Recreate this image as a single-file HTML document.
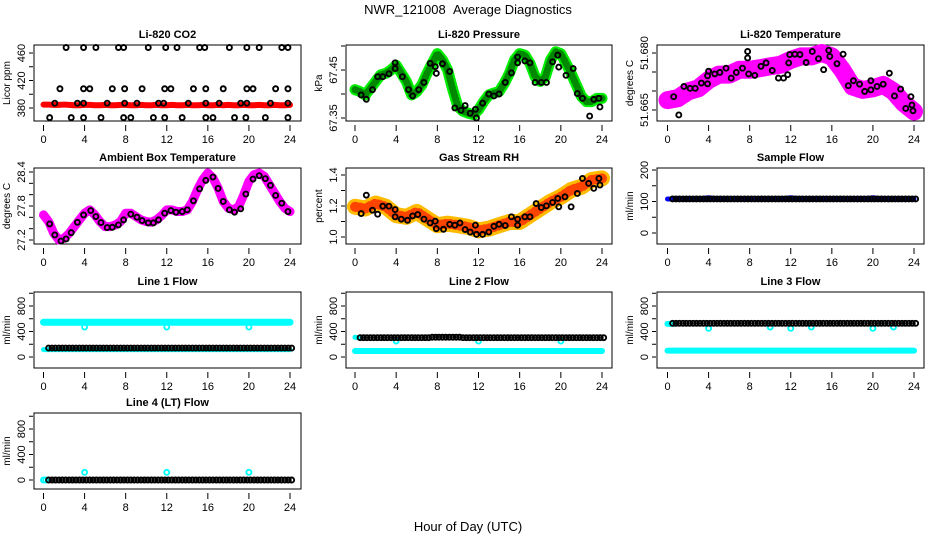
<!DOCTYPE html>
<html><head><meta charset="utf-8"><title>NWR_121008 Average Diagnostics</title>
<style>
html,body{margin:0;padding:0;background:#fff;}
svg{display:block;font-family:"Liberation Sans",sans-serif;}
</style></head>
<body>
<svg id="chart" width="936" height="540" viewBox="0 0 936 540" xmlns="http://www.w3.org/2000/svg">
<rect x="0" y="0" width="936" height="540" fill="#fff"/>
<text x="468" y="14" font-size="13" text-anchor="middle">NWR_121008&#160;&#160;Average Diagnostics</text>
<text x="468" y="531" font-size="13" text-anchor="middle">Hour of Day (UTC)</text>
</svg>
<script>
// ---------- data ----------
const hourTicks = [0,4,8,12,16,20,24];
const halfHours = [0,0.5,1,1.5,2,2.5,3,3.5,4,4.5,5,5.5,6,6.5,7,7.5,8,8.5,9,9.5,10,10.5,11,11.5,12,12.5,13,13.5,14,14.5,15,15.5,16,16.5,17,17.5,18,18.5,19,19.5,20,20.5,21,21.5,22,22.5,23,23.5,24];
const hours = [0,1,2,3,4,5,6,7,8,9,10,11,12,13,14,15,16,17,18,19,20,21,22,23,24];

// CO2
const co2RedValues = [385,385,384.5,384.5,385,384.5,384,384,384.5,384.5,384,384,384.5,384,384,384.5,384.5,384,384,384.5,384,384,384.5,384,384,384.5,384,384,384.5,384,384,384.5,384,384,384.5,384,384.5,384,384,384.5,384,384,384.5,384,384,384.5,384,384,384.5];
const co2BlackTimes = [2.2,3.9,5.1,7.3,7.8,10.2,11.9,13,15.2,15.7,18.1,19.8,21,23.2,23.8, 1.6,3.9,4.5,6.7,7.9,9.6,11.8,12.4,14.6,15.8,17.5,19.8,20.4,22.6,23.8, 1.1,3.3,3.9,6.2,7.9,9.1,11.2,11.7,14.1,15.8,17.1,19.2,19.8,22.1,23.8, 0.6,2.7,3.9,5.6,7.8,8.5,10.7,11.8,13.5,15.8,16.5,18.6,19.7,21.6,23.8];
const co2BlackValues = [468,468,468,468,468,468,468,468,468,468,468,468,468,468,468, 408,408,408,408,408,408,408,408,408,408,408,408,408,408,408, 387,387,387,387,387,387,387,387,387,387,387,387,387,387,387, 366,366,366,366,366,366,366,366,366,366,366,366,366,366,366];

// Pressure
const pressGreenValues = [67.409,67.405,67.398,67.412,67.426,67.440,67.443,67.450,67.460,67.443,67.426,67.398,67.405,67.419,67.443,67.464,67.484,67.471,67.450,67.409,67.374,67.364,67.360,67.357,67.367,67.384,67.398,67.402,67.405,67.422,67.443,67.471,67.484,67.481,67.464,67.436,67.426,67.436,67.471,67.488,67.484,67.464,67.443,67.419,67.395,67.384,67.384,67.391,67.391];
const pressBlackTimes = [0.6,1.1,1.7,2.2,2.7,3.3,3.9,3.9,4.6,5.2,5.6,6.2,6.7,7.3,7.8,7.9,8.5,9.2,9.7,10.3,10.7,11.2,11.7,11.8,12.4,13,13.5,14,14.6,15.2,15.8,15.8,16.5,17,17.5,18.1,18.6,19.2,19.7,19.8,20.5,21.2,21.6,22.1,22.8,23.2,23.7,23.8];
const pressBlackValues = [67.398,67.389,67.409,67.436,67.436,67.442,67.465,67.453,67.436,67.409,67.396,67.409,67.424,67.464,67.457,67.443,67.463,67.447,67.371,67.366,67.376,67.360,67.368,67.350,67.381,67.400,67.396,67.400,67.424,67.444,67.477,67.465,67.469,67.465,67.424,67.424,67.424,67.467,67.481,67.456,67.439,67.453,67.401,67.391,67.354,67.389,67.391,67.373];

// Li-820 temperature
const tempMagentaValues = [51.6676,51.6681,51.6699,51.6707,51.6729,51.6743,51.6743,51.6756,51.6756,51.6760,51.6765,51.6769,51.6782,51.6791,51.6791,51.6800,51.6791,51.6756,51.6712,51.6703,51.6707,51.6716,51.6699,51.6668,51.6646];
const tempBlackTimes = [0.6,1.1,1.6,2.2,2.7,3.3,3.9,3.9,4.0,4.6,5.1,5.7,6.2,6.7,7.3,7.8,7.8,7.9,8.5,9.1,9.6,10.2,10.8,11.3,11.7,11.8,11.9,12.4,12.9,13.5,14.1,14.7,15.2,15.7,15.8,16.5,17.1,17.6,18.1,18.7,19.2,19.8,19.8,20.4,21.0,21.6,22.1,22.7,23.2,23.7,23.8,23.9];
const tempBlackValues = [51.6685,51.6637,51.6712,51.6707,51.6707,51.6721,51.6719,51.6740,51.6752,51.6745,51.6749,51.6760,51.6734,51.6749,51.6760,51.6804,51.6787,51.6745,51.6741,51.6765,51.6774,51.6754,51.6734,51.6734,51.6743,51.6774,51.6796,51.6797,51.6796,51.6775,51.6804,51.6785,51.6756,51.6807,51.6791,51.6772,51.6797,51.6714,51.6727,51.6718,51.6699,51.6727,51.6703,51.6712,51.6718,51.6747,51.6687,51.6705,51.6654,51.6685,51.6663,51.6648];

// Ambient box temperature
const ambMagentaValues = [27.643,27.525,27.318,27.200,27.230,27.318,27.436,27.555,27.673,27.732,27.643,27.525,27.436,27.436,27.466,27.525,27.673,27.673,27.614,27.555,27.525,27.513,27.555,27.631,27.732,27.732,27.702,27.702,27.732,27.880,28.087,28.264,28.382,28.294,28.116,27.880,27.761,27.732,27.791,27.998,28.234,28.353,28.382,28.323,28.175,28.027,27.880,27.761,27.702];
const ambBlackTimes = [0.6,1.1,1.7,2.2,2.7,3.3,3.9,4.6,5.1,5.6,6.2,6.7,7.3,7.8,8.5,9.1,9.6,10.2,10.7,11.2,11.8,12.4,12.9,13.5,14,14.6,15.2,15.8,16.5,17,17.5,18.1,18.6,19.2,19.7,20.4,21,21.6,22.1,22.6,23.2,23.8];
const ambBlackValues = [27.484,27.289,27.182,27.218,27.330,27.513,27.643,27.720,27.614,27.507,27.419,27.425,27.466,27.555,27.655,27.602,27.543,27.502,27.502,27.555,27.673,27.720,27.691,27.702,27.732,27.892,28.104,28.252,28.311,28.110,27.880,27.732,27.691,27.750,28.010,28.276,28.335,28.282,28.164,27.986,27.850,27.702];

// Gas stream RH
const rhOrangeValues = [1.195,1.184,1.216,1.195,1.141,1.130,1.162,1.119,1.076,1.086,1.076,1.065,1.043,1.054,1.076,1.097,1.097,1.141,1.184,1.227,1.259,1.303,1.324,1.368,1.378];
const rhBlackTimes = [0.6,1.1,1.7,2.2,2.7,3.3,3.9,3.9,4.5,5.1,5.6,6.1,6.7,7.3,7.8,7.9,8.6,9.2,9.7,10.2,10.7,11.2,11.7,11.8,12.4,13,13.5,14,14.6,15.2,15.8,15.8,16.5,17,17.6,18.1,18.6,19.2,19.7,19.8,20.4,21,21.6,22.1,22.7,23.2,23.7,23.8];
const rhBlackValues = [1.151,1.270,1.173,1.147,1.199,1.199,1.177,1.130,1.115,1.108,1.136,1.145,1.115,1.091,1.102,1.054,1.050,1.082,1.076,1.091,1.048,1.032,1.076,1.017,1.017,1.032,1.069,1.082,1.074,1.130,1.115,1.076,1.130,1.130,1.216,1.190,1.201,1.223,1.249,1.195,1.259,1.195,1.281,1.378,1.346,1.314,1.378,1.335];

// Flows (hourly values)
const sampleBlueValues = [108,108,108,108,112,108,108,108,108,108,108,108,112,108,108,108,108,108,108,108,112,108,108,108,108];
const sampleBlackValues = [108,108,108,108,108,108,108,108,108,108,108,108,108,108,108,108,108,108,108,108,108,108,108,108];
const line1CyanHigh = [545,545,545,545,545,545,545,545,545,545,545,545,545,545,545,545,545,545,545,545,545,545,545,545,545];
const line1CyanLow = [115,115,115,115,115,115,115,115,115,115,115,115,115,115,115,115,115,115,115,115,115,115,115,115,115];
const line1Black = [140,140,140,140,140,140,140,140,140,140,140,140,140,140,140,140,140,140,140,140,140,140,140,140];
const line1DipTimes = [4,12,20];
const line1DipValues = [470,470,470];
const line2CyanHigh = [310,305,300];
const line2CyanHighTimes = [0,0.3,0.6];
const line2CyanLow = [95,95,95,95,95,95,95,95,95,95,95,95,95,95,95,95,95,95,95,95,95,95,95,95,95];
const line2Black = [303,303,303,303,303,303,303,310,310,310,303,303,303,303,303,303,303,303,303,303,303,303,303,303];
const line2DipTimes = [4,12,20];
const line2DipValues = [250,250,250];
const line3CyanHigh = [520,520,520];
const line3CyanHighTimes = [0,0.3,0.6];
const line3CyanLow = [100,100,100,100,100,100,100,100,100,100,100,100,100,100,100,100,100,100,100,100,100,100,100,100,100];
const line3Black = [528,528,528,528,528,528,528,528,528,528,528,528,528,528,528,528,528,528,528,528,528,528,528,528];
const line3DipTimes = [4,10,12,14,20,22];
const line3DipValues = [450,470,450,470,450,470];
const line4Black = [0,0,0,0,0,0,0,0,0,0,0,0,0,0,0,0,0,0,0,0,0,0,0,0];
const line4CyanTimes = [0,0.2,4,12,20];
const line4CyanValues = [0,0,120,120,120];

// ---------- layout ----------
const NS = 'http://www.w3.org/2000/svg';
const svg = document.getElementById('chart');
const cols = [{l:34,r:301,x0:43.5,x24:290},{l:346,r:612,x0:355,x24:602},{l:657,r:924,x0:667.5,x24:914}];
const rows = [{t:45,b:121},{t:168,b:244},{t:292,b:368},{t:413,b:489}];

function mk(tag, parent) { const e = document.createElementNS(NS, tag); parent.appendChild(e); return e; }

function panel(ci, ri, title, ylab, v1, p1, v2, p2, ticks, labels, key) {
  const c = cols[ci], r = rows[ri];
  const g = mk('g', svg);
  
  
  const xs = h => c.x0 + (c.x24 - c.x0) * h / 24;
  const ys = v => p1 + (p2 - p1) * (v - v1) / (v2 - v1);
  const box = mk('rect', g);
  box.setAttribute('x', c.l); box.setAttribute('y', r.t);
  box.setAttribute('width', c.r - c.l); box.setAttribute('height', r.b - r.t);
  box.setAttribute('fill', 'none'); box.setAttribute('stroke', '#000'); box.setAttribute('stroke-width', '1');
  
  
  const t = mk('text', g);
  t.setAttribute('x', (c.l + c.r) / 2); t.setAttribute('y', r.t - 7);
  t.setAttribute('font-size', '11'); t.setAttribute('font-weight', 'bold'); t.setAttribute('text-anchor', 'middle');
  t.textContent = title;
  
  
  const yl = mk('text', g);
  const ylx = c.l - 24, yly = (r.t + r.b) / 2;
  yl.setAttribute('x', ylx); yl.setAttribute('y', yly);
  yl.setAttribute('transform', 'rotate(-90 ' + ylx + ' ' + yly + ')');
  yl.setAttribute('font-size', '10'); yl.setAttribute('text-anchor', 'middle');
  yl.textContent = ylab;
  
  
  hourTicks.forEach(h => {
    const x = xs(h);
    const tk = mk('line', g);
    tk.setAttribute('x1', x); tk.setAttribute('x2', x); tk.setAttribute('y1', r.b + 4); tk.setAttribute('y2', r.b + 10);
    tk.setAttribute('stroke', '#000');
    
    
    const tl = mk('text', g);
    tl.setAttribute('x', x); tl.setAttribute('y', r.b + 22);
    tl.setAttribute('font-size', '11'); tl.setAttribute('text-anchor', 'middle');
    tl.textContent = h;
    
    
  });
  ticks.forEach(v => {
    const y = ys(v);
    const tk = mk('line', g);
    tk.setAttribute('x1', c.l - 5); tk.setAttribute('x2', c.l - 1); tk.setAttribute('y1', y); tk.setAttribute('y2', y);
    tk.setAttribute('stroke', '#000');
    
    
  });
  labels.forEach(v => {
    const y = ys(v), x = c.l - 9;
    const tl = mk('text', g);
    tl.setAttribute('x', x); tl.setAttribute('y', y);
    tl.setAttribute('transform', 'rotate(-90 ' + x + ' ' + y + ')');
    tl.setAttribute('font-size', '11'); tl.setAttribute('text-anchor', 'middle');
    tl.textContent = String(v);
    
    
  });
  return {g, xs, ys};
}

function band(p, times, vals, color, width, name, dash) {
  const pl = mk('polyline', p.g);
  pl.setAttribute('points', times.map((h, i) => p.xs(h) + ',' + p.ys(vals[i])).join(' '));
  pl.setAttribute('fill', 'none'); pl.setAttribute('stroke', color); pl.setAttribute('stroke-width', width);
  pl.setAttribute('stroke-linejoin', 'round'); pl.setAttribute('stroke-linecap', 'round');
  if (dash) pl.setAttribute('stroke-dasharray', dash);
  
  
}
function pts(p, times, vals, color, name, r) {
  times.forEach((h, i) => {
    const c = mk('circle', p.g);
    c.setAttribute('cx', p.xs(h)); c.setAttribute('cy', p.ys(vals[i])); c.setAttribute('r', r || 2.5);
    c.setAttribute('fill', 'none'); c.setAttribute('stroke', color); c.setAttribute('stroke-width', '1.9');
    
    
  });
}
// three points per hour from hourly values
function hourlyPts(p, vals, color, name, offset) {
  vals.forEach((v, i) => {
    [0, 0.33, 0.66].forEach(d => {
      const c = mk('circle', p.g);
      c.setAttribute('cx', p.xs(i + offset + d)); c.setAttribute('cy', p.ys(v)); c.setAttribute('r', 2.5);
      c.setAttribute('fill', 'none'); c.setAttribute('stroke', color); c.setAttribute('stroke-width', '1.9');
      
      
    });
  });
}

// CO2
let p = panel(0, 0, 'Li-820 CO2', 'Licor ppm', 380, 108, 460, 53, [380,400,420,440,460], [380,420,460], 'co2');
band(p, halfHours, co2RedValues, '#ff0000', 6, 'co2-red-series');
pts(p, co2BlackTimes, co2BlackValues, '#000', 'co2-point');

// Pressure
p = panel(1, 0, 'Li-820 Pressure', 'kPa', 67.35, 118, 67.45, 70, [67.35,67.40,67.45,67.50], ['67.35','67.45'], 'pressure');
band(p, halfHours, pressGreenValues, '#00ee00', 11, 'pressure-green-series');
band(p, halfHours, pressGreenValues, '#008800', 7, 'pressure-green-speckle', '1 3');
pts(p, pressBlackTimes, pressBlackValues, '#000', 'pressure-point');

// Li-820 temperature
p = panel(2, 0, 'Li-820 Temperature', 'degrees C', 51.665, 110, 51.680, 53, [51.665,51.670,51.675,51.680], ['51.665','51.680'], 'li820-temp');
band(p, hours, tempMagentaValues, '#ff00ff', 18, 'li820-temp-magenta-series');
pts(p, tempBlackTimes, tempBlackValues, '#000', 'li820-temp-point');

// Ambient
p = panel(0, 1, 'Ambient Box Temperature', 'degrees C', 27.2, 240, 28.4, 172, [27.2,27.4,27.6,27.8,28.0,28.2,28.4], ['27.2','27.8','28.4'], 'ambient');
band(p, halfHours, ambMagentaValues, '#ff00ff', 9, 'ambient-magenta-series');
pts(p, ambBlackTimes, ambBlackValues, '#000', 'ambient-point');

// RH
p = panel(1, 1, 'Gas Stream RH', 'percent', 1.0, 237, 1.4, 175, [1.0,1.1,1.2,1.3,1.4], ['1.0','1.2','1.4'], 'rh');
band(p, hours, rhOrangeValues, '#ffbb00', 16, 'rh-orange-series');
band(p, hours, rhOrangeValues, '#ff4400', 10, 'rh-red-speckle', '1 4');
pts(p, rhBlackTimes, rhBlackValues, '#000', 'rh-point');

// Sample flow
p = panel(2, 1, 'Sample Flow', 'ml/min', 0, 233, 200, 170, [0,50,100,150,200], [0,100,200], 'sample-flow');
band(p, hours, sampleBlueValues, '#0000ff', 5, 'sample-flow-blue-series');
hourlyPts(p, sampleBlackValues, '#000', 'sample-flow-point', 0.5);

// Line 1
const flowTicks = [0,200,400,600,800,1000], flowLabels = [0,400,800];
p = panel(0, 2, 'Line 1 Flow', 'ml/min', 0, 357, 800, 306, flowTicks, flowLabels, 'line1-flow');
band(p, hours, line1CyanHigh, '#00ffff', 7, 'line1-cyan-high');
band(p, hours, line1CyanLow, '#00ffff', 5, 'line1-cyan-low');
pts(p, line1DipTimes, line1DipValues, '#00ffff', 'line1-cyan-dip');
hourlyPts(p, line1Black, '#000', 'line1-point', 0.5);

// Line 2
p = panel(1, 2, 'Line 2 Flow', 'ml/min', 0, 357, 800, 306, flowTicks, flowLabels, 'line2-flow');
band(p, hours, line2CyanLow, '#00ffff', 6, 'line2-cyan-low');
band(p, line2CyanHighTimes, line2CyanHigh, '#00ffff', 5, 'line2-cyan-high');
pts(p, line2DipTimes, line2DipValues, '#00ffff', 'line2-cyan-dip');
hourlyPts(p, line2Black, '#000', 'line2-point', 0.5);

// Line 3
p = panel(2, 2, 'Line 3 Flow', 'ml/min', 0, 357, 800, 306, flowTicks, flowLabels, 'line3-flow');
band(p, hours, line3CyanLow, '#00ffff', 6, 'line3-cyan-low');
band(p, line3CyanHighTimes, line3CyanHigh, '#00ffff', 6, 'line3-cyan-high');
pts(p, line3DipTimes, line3DipValues, '#00ffff', 'line3-cyan-dip');
hourlyPts(p, line3Black, '#000', 'line3-point', 0.5);

// Line 4
p = panel(0, 3, 'Line 4 (LT) Flow', 'ml/min', 0, 480, 800, 429, flowTicks, flowLabels, 'line4-flow');
pts(p, line4CyanTimes, line4CyanValues, '#00ffff', 'line4-cyan-point');
hourlyPts(p, line4Black, '#000', 'line4-point', 0.5);
</script>
</body></html>
